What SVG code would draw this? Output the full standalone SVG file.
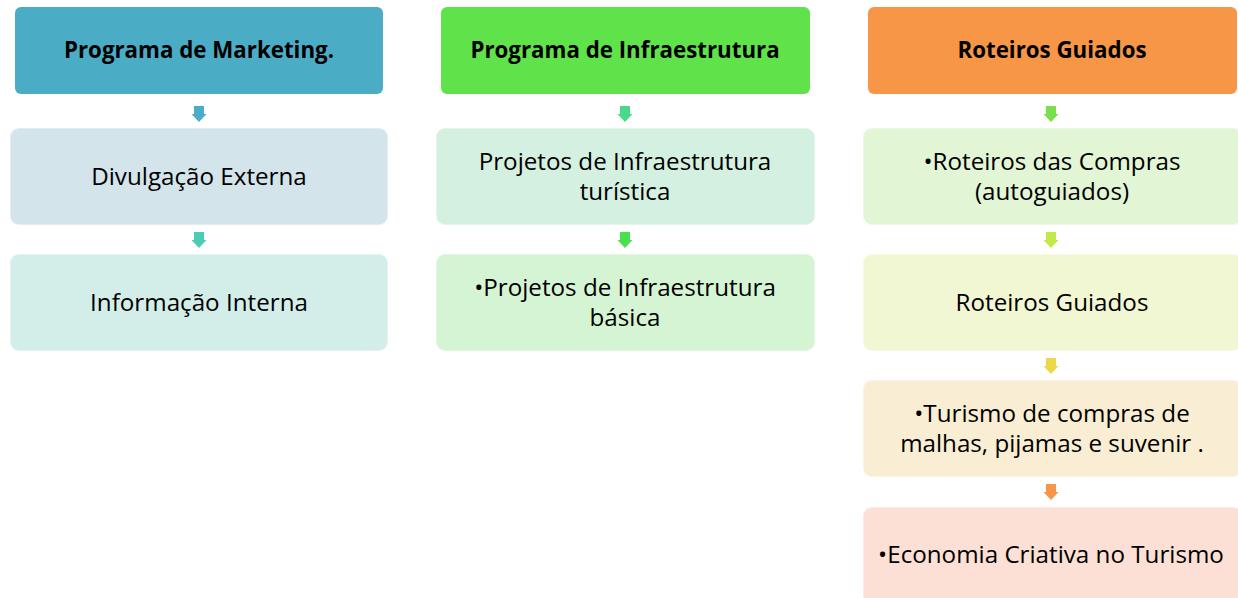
<svg xmlns="http://www.w3.org/2000/svg" width="1238" height="598" viewBox="0 0 1238 598">
<style>
.hd text{font-family:"Open Sans","Noto Sans",sans-serif;font-weight:bold;font-size:22.3px;fill:#000;text-anchor:middle}
.ch text{font-family:"Open Sans","Noto Sans",sans-serif;font-size:24.2px;fill:#000;text-anchor:middle}
.ch rect{stroke:#ffffff;stroke-opacity:0.35;stroke-width:2}
</style>
<defs>
<path id="arr" d="M-5,0 H5 V8 H7.5 L0,16 L-7.5,8 H-5 Z"/>
</defs>
<g id="connectors">
<use href="#arr" x="199" y="106" fill="#4BACC6"/>
<use href="#arr" x="199" y="232" fill="#4BCDB4"/>
<use href="#arr" x="625" y="106" fill="#4AD98A"/>
<use href="#arr" x="625" y="232" fill="#4ADF4E"/>
<use href="#arr" x="1051" y="106" fill="#79E04A"/>
<use href="#arr" x="1051" y="232" fill="#C3E84A"/>
<use href="#arr" x="1051" y="358" fill="#EDD84A"/>
<use href="#arr" x="1051" y="484" fill="#F7964A"/>
</g>
<g id="h1" class="hd"><rect x="15" y="7" width="368" height="87" rx="6" fill="#4BACC6"/><text x="199" y="58">Programa de Marketing.</text></g>
<g id="h2" class="hd"><rect x="441" y="7" width="369" height="87" rx="6" fill="#60E24A"/><text x="625" y="58">Programa de Infraestrutura</text></g>
<g id="h3" class="hd"><rect x="868" y="7" width="369" height="87" rx="6" fill="#F79646"/><text x="1052" y="58">Roteiros Guiados</text></g>

<g id="c1a" class="ch"><rect x="10" y="128" width="378" height="97" rx="9" fill="#D3E4EB"/><text x="199" y="185">Divulgação Externa</text></g>
<g id="c1b" class="ch"><rect x="10" y="254" width="378" height="97" rx="9" fill="#D3EEE9"/><text x="199" y="311">Informação Interna</text></g>

<g id="c2a" class="ch"><rect x="436" y="128" width="379" height="97" rx="9" fill="#D3F0E1"/><text x="625" y="170">Projetos de Infraestrutura</text><text x="625" y="200">turística</text></g>
<g id="c2b" class="ch"><rect x="436" y="254" width="379" height="97" rx="9" fill="#D5F4D3"/><text x="625" y="296">•Projetos de Infraestrutura</text><text x="625" y="326">básica</text></g>

<g id="c3a" class="ch"><rect x="863" y="128" width="379" height="97" rx="9" fill="#E2F5D5"/><text x="1052" y="170">•Roteiros das Compras</text><text x="1052" y="200">(autoguiados)</text></g>
<g id="c3b" class="ch"><rect x="863" y="254" width="379" height="97" rx="9" fill="#F1F7D3"/><text x="1052" y="311">Roteiros Guiados</text></g>
<g id="c3c" class="ch"><rect x="863" y="380" width="379" height="97" rx="9" fill="#F9EED3"/><text x="1052" y="422">•Turismo de compras de</text><text x="1052" y="452">malhas, pijamas e suvenir .</text></g>
<g id="c3d" class="ch"><rect x="863" y="507" width="379" height="97" rx="9" fill="#FCE0D5"/><text x="1051" y="563">•Economia Criativa no Turismo</text></g>
</svg>
